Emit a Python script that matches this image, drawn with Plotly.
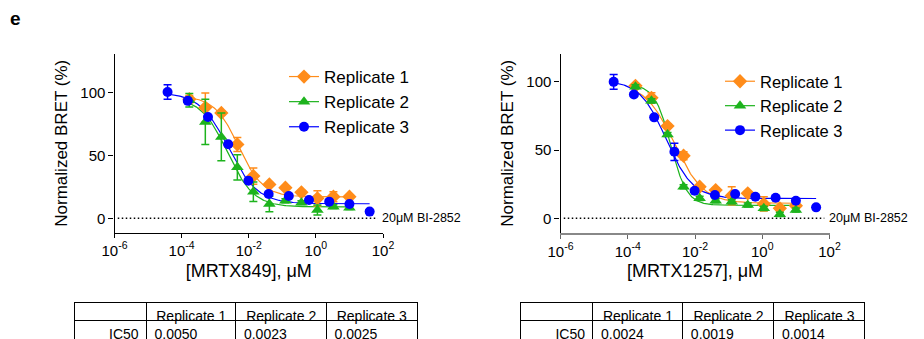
import plotly.graph_objects as go
import numpy as np

FONT = "Arial, Liberation Sans, sans-serif"
W, H = 924, 339

series_names = ["Replicate 1", "Replicate 2", "Replicate 3"]
colors = ["#FF8C1A", "#1DB31D", "#0000FF"]
symbols = ["diamond", "triangle-up", "circle"]
sizes = [11, 11, 10]

# concentrations (µM)
conc_r12 = [0.0001694, 0.000508, 0.001524, 0.004572, 0.01372, 0.04115, 0.1235, 0.3704, 1.111, 3.333, 10.0]
conc_r3 = [0.0000381, 0.0001526, 0.00061, 0.002441, 0.009766, 0.0390625, 0.15625, 0.625, 2.5, 10.0, 40.0]

# MRTX849 panel
a_r1 = [94.5, 87.9, 83.6, 58.6, 33.5, 26.9, 24.3, 20.6, 15.8, 17.1, 17.1]
a_r1_err = [3.0, 11.5, 1.5, 5.5, 6.5, 1.5, 1.5, 1.5, 6.0, 4.0, 1.5]
a_r2 = [93.7, 76.5, 64.6, 40.4, 21.1, 11.3, 13.9, 12.4, 6.6, 9.2, 8.4]
a_r2_err = [5.3, 18.0, 19.0, 10.0, 7.7, 6.1, 1.5, 1.5, 4.0, 1.5, 1.5]
a_r3 = [100.2, 93.2, 80.4, 58.8, 29.8, 19.2, 17.7, 14.5, 13.2, 11.3, 5.3]
a_r3_err = [5.8, 1.0, 1.0, 1.0, 1.0, 1.0, 1.0, 1.0, 1.0, 1.0, 1.0]

# MRTX1257 panel
b_r1 = [97.0, 88.2, 67.5, 45.8, 23.1, 20.7, 16.5, 18.3, 10.5, 7.3, 9.2]
b_r1_err = [1.5, 3.7, 1.5, 3.0, 1.5, 1.5, 6.6, 1.5, 5.2, 1.5, 3.7]
b_r2 = [96.3, 86.0, 61.4, 23.1, 14.6, 12.9, 12.1, 9.7, 7.3, 2.9, 6.1]
b_r2_err = [1.5, 1.5, 1.5, 1.5, 1.5, 1.5, 1.5, 1.5, 1.5, 1.5, 1.5]
b_r3 = [99.9, 90.7, 73.9, 48.7, 20.2, 17.0, 17.8, 15.8, 15.1, 12.9, 8.0]
b_r3_err = [5.4, 1.0, 1.0, 6.3, 1.0, 1.0, 1.0, 1.0, 1.0, 1.0, 1.0]

# fitted 4PL parameters: IC50 (µM), top, bottom, hill
a_ic50 = [0.0050, 0.0023, 0.0025]
a_top = [97.0, 96.0, 100.0]
a_bottom = [17.0, 9.0, 11.5]
a_hill = [1.2, 1.1, 1.0]
b_ic50 = [0.0024, 0.0019, 0.0014]
b_top = [99.0, 98.0, 101.0]
b_bottom = [11.0, 9.5, 14.5]
b_hill = [1.0, 1.8, 1.1]

ic50_a_text = ["0.0050", "0.0023", "0.0025"]
ic50_b_text = ["0.0024", "0.0019", "0.0014"]

xtick_vals = [1e-6, 1e-4, 1e-2, 1, 100]
xtick_text = ["10<sup>-6</sup>", "10<sup>-4</sup>", "10<sup>-2</sup>", "10<sup>0</sup>", "10<sup>2</sup>"]
ytick_vals = [0, 50, 100]
baseline_x = [1.25e-6, 70]
baseline_label = "20μM BI-2852"

fig = go.Figure()


def fourpl(x, ic50, top, bottom, hill):
    return bottom + (top - bottom) / (1 + (x / ic50) ** hill)


panels = [
    dict(xa="x", ya="y", legend="legend",
         ys=[a_r1, a_r2, a_r3], errs=[a_r1_err, a_r2_err, a_r3_err],
         ic50=a_ic50, top=a_top, bottom=a_bottom, hill=a_hill),
    dict(xa="x2", ya="y2", legend="legend2",
         ys=[b_r1, b_r2, b_r3], errs=[b_r1_err, b_r2_err, b_r3_err],
         ic50=b_ic50, top=b_top, bottom=b_bottom, hill=b_hill),
]

for p in panels:
    # dotted baseline
    fig.add_trace(go.Scatter(x=baseline_x, y=[0, 0], mode="lines", xaxis=p["xa"], yaxis=p["ya"],
                             line=dict(color="black", width=1.5, dash="1.5px,2.5px"),
                             showlegend=False, hoverinfo="skip"))
    for i in range(3):
        xs = conc_r3 if i == 2 else conc_r12
        xfit = np.logspace(np.log10(xs[0]), np.log10(xs[-1]), 200)
        yfit = fourpl(xfit, p["ic50"][i], p["top"][i], p["bottom"][i], p["hill"][i])
        fig.add_trace(go.Scatter(x=xfit, y=yfit, mode="lines", xaxis=p["xa"], yaxis=p["ya"],
                                 line=dict(color=colors[i], width=1.2), showlegend=False,
                                 hoverinfo="skip"))
    for i in [0, 1, 2]:
        xs = conc_r3 if i == 2 else conc_r12
        fig.add_trace(go.Scatter(x=xs, y=p["ys"][i], mode="markers", xaxis=p["xa"], yaxis=p["ya"],
                                 marker=dict(color=colors[i], symbol=symbols[i], size=sizes[i],
                                             line=dict(width=0)),
                                 error_y=dict(type="data", array=p["errs"][i], color=colors[i],
                                              thickness=1.5, width=4),
                                 showlegend=False))
    for i in range(3):
        fig.add_trace(go.Scatter(x=[None], y=[None], mode="lines+markers", name=series_names[i],
                                 xaxis=p["xa"], yaxis=p["ya"], legend=p["legend"],
                                 marker=dict(color=colors[i], symbol=symbols[i], size=sizes[i]),
                                 line=dict(color=colors[i], width=1.2)))

# tables
header_text = [""] + [s.replace(" ", "\u00a0") for s in series_names]
for dom, vals in [((74 / W, 417 / W), ic50_a_text), ((520 / W, 865 / W), ic50_b_text)]:
    fig.add_trace(go.Table(
        domain=dict(x=list(dom), y=[0, 37 / H]),
        columnwidth=[72.7, 89.5, 90.7, 90.7],
        header=dict(values=header_text, align=["right", "center", "center", "center"],
                    line=dict(color="black", width=1), fill=dict(color="white"),
                    font=dict(family=FONT, size=14, color="black"), height=18),
        cells=dict(values=[["IC50"]] + [[v] for v in vals], align=["right", "left", "left", "left"],
                   line=dict(color="black", width=1), fill=dict(color="white"),
                   font=dict(family=FONT, size=14, color="black"), height=19),
    ))

ydom = [(339 - 232.5) / H, (339 - 54) / H]
common_x = dict(type="log", tickvals=xtick_vals, ticktext=xtick_text, ticks="outside", ticklen=4,
                showgrid=False, zeroline=False, showline=True, mirror=False, automargin=False,
                tickfont=dict(family=FONT, size=15, color="black"))
common_y = dict(tickvals=ytick_vals, ticks="outside", ticklen=5, showgrid=False, zeroline=False,
                showline=True, linecolor="black", linewidth=1.2, tickcolor="black", automargin=False,
                tickfont=dict(family=FONT, size=15, color="black"),
                title=dict(text="Normalized BRET (%)", font=dict(family=FONT, size=17, color="black"),
                           standoff=8), domain=ydom)

fig.update_layout(
    width=W, height=H, margin=dict(l=0, r=0, t=0, b=0, autoexpand=False),
    paper_bgcolor="white", plot_bgcolor="white",
    font=dict(family=FONT, color="black"),
    xaxis=dict(common_x, domain=[114.5 / W, 383 / W], range=[-6, 2], anchor="y",
               linecolor="black", linewidth=1.2, tickcolor="black",
               title=dict(text="[MRTX849], μM", font=dict(family=FONT, size=18, color="black"), standoff=6)),
    yaxis=dict(common_y, range=[-11.3, 130.4], anchor="x"),
    xaxis2=dict(common_x, domain=[560.5 / W, 829.5 / W], range=[-6, 2], anchor="y2",
                linecolor="#888888", linewidth=2, tickcolor="#666666",
                title=dict(text="[MRTX1257], μM", font=dict(family=FONT, size=18, color="black"), standoff=6)),
    yaxis2=dict(common_y, range=[-10.4, 120.3], anchor="x2"),
    legend=dict(x=284 / W, y=1 - 59 / H, xanchor="left", yanchor="top", bgcolor="rgba(0,0,0,0)",
                font=dict(family=FONT, size=17, color="black"), tracegroupgap=0),
    legend2=dict(x=720 / W, y=1 - 64 / H, xanchor="left", yanchor="top", bgcolor="rgba(0,0,0,0)",
                 font=dict(family=FONT, size=16.5, color="black"), tracegroupgap=0),
    showlegend=True,
    annotations=[
        dict(text="<b>e</b>", x=8 / W, y=1 - 6 / H, xref="paper", yref="paper", xanchor="left",
             yanchor="top", showarrow=False, font=dict(family=FONT, size=19, color="black")),
        dict(text=baseline_label, x=2.0, y=0, xref="x", yref="y", xanchor="left", yanchor="middle",
             showarrow=False, xshift=-3, font=dict(family=FONT, size=12.5, color="black")),
        dict(text=baseline_label, x=2.0, y=0, xref="x2", yref="y2", xanchor="left", yanchor="middle",
             showarrow=False, xshift=-3, font=dict(family=FONT, size=12.5, color="black")),
    ],
)

fig.write_html("out.html")
